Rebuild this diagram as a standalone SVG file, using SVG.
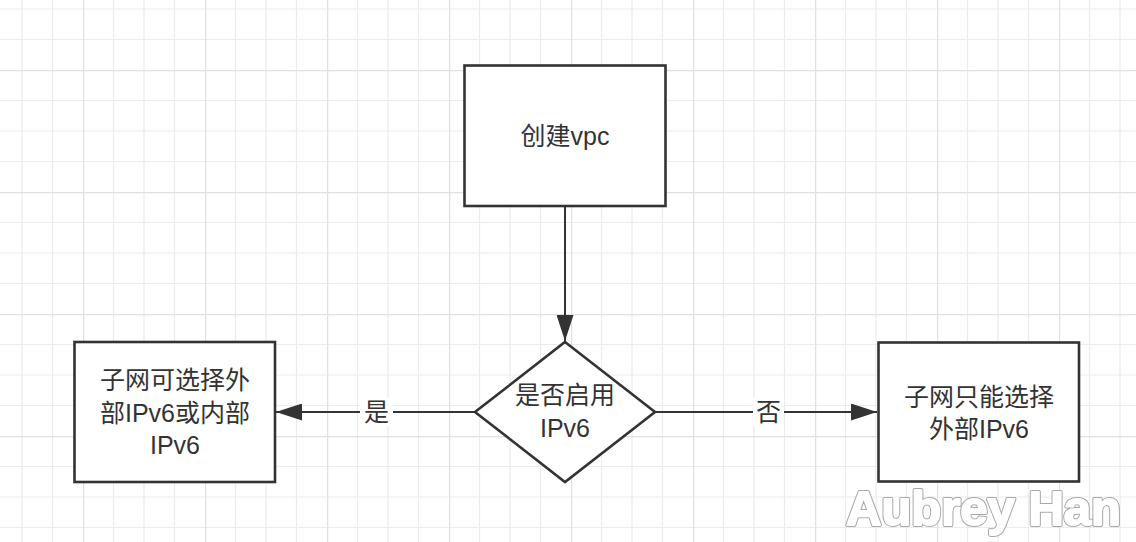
<svg xmlns="http://www.w3.org/2000/svg" width="1136" height="542" viewBox="0 0 1136 542">
<defs>
<pattern id="grid" patternUnits="userSpaceOnUse" x="83" y="70" width="122" height="122">
<rect width="122" height="122" fill="#ffffff"/>
<path d="M30.5 0V122M61 0V122M91.5 0V122M0 30.5H122M0 61H122M0 91.5H122" stroke="#ececec" stroke-width="1.2" fill="none"/>
<path d="M0.5 0V122M0 0.5H122" stroke="#e0e0e0" stroke-width="1.4" fill="none"/>
</pattern>
<marker id="arr" viewBox="0 0 26 17" refX="26" refY="8.5" markerWidth="26" markerHeight="17" markerUnits="userSpaceOnUse" orient="auto">
<path d="M0 0L26 8.5L0 17Z" fill="#333333"/>
</marker>
<style>
.box{fill:#ffffff;stroke:#333333;stroke-width:2.6}
.t{font-family:"Liberation Sans","Noto Sans CJK SC",sans-serif;font-size:25px;fill:#333333;text-anchor:middle}
.edge{stroke:#333333;stroke-width:2;fill:none}
.lbl{fill:#ffffff}
.wm{font-family:"Liberation Sans",Arial,sans-serif;font-weight:bold;font-size:49px}
</style>
</defs>
<rect width="1136" height="542" fill="url(#grid)"/>
<g id="connectors">
<path class="edge" d="M565 207V341" marker-end="url(#arr)"/>
<path class="edge" d="M475 412H276" marker-end="url(#arr)"/>
<path class="edge" d="M655 412H877" marker-end="url(#arr)"/>
<rect class="lbl" x="360" y="398" width="33" height="28"/>
<text class="t" x="376.5" y="421">是</text>
<rect class="lbl" x="753" y="398" width="31" height="28"/>
<text class="t" x="768.5" y="421">否</text>
</g>
<g id="node-create">
<rect class="box" x="464.5" y="65.5" width="201" height="140.5"/>
<text class="t" x="565" y="145">创建vpc</text>
</g>
<g id="node-decision">
<path class="box" d="M565 342L655 412L565 482L475 412Z"/>
<text class="t" x="565" y="404">是否启用</text>
<text class="t" x="565" y="436.5">IPv6</text>
</g>
<g id="node-yes">
<rect class="box" x="74.5" y="342" width="200.5" height="140"/>
<text class="t" x="175" y="389">子网可选择外</text>
<text class="t" x="175" y="422">部IPv6或内部</text>
<text class="t" x="175" y="454">IPv6</text>
</g>
<g id="node-no">
<rect class="box" x="878.5" y="342.5" width="200.5" height="139"/>
<text class="t" x="979" y="406">子网只能选择</text>
<text class="t" x="979" y="437.5">外部IPv6</text>
</g>
<g id="watermark">
<text class="wm" x="846" y="525" fill="#ffffff" stroke="#a8a8a8" stroke-width="4" stroke-linejoin="round">Aubrey Han</text>
<text class="wm" x="846" y="525" fill="#ffffff" stroke="#ffffff" stroke-width="2" stroke-linejoin="round">Aubrey Han</text>
</g>
</svg>
